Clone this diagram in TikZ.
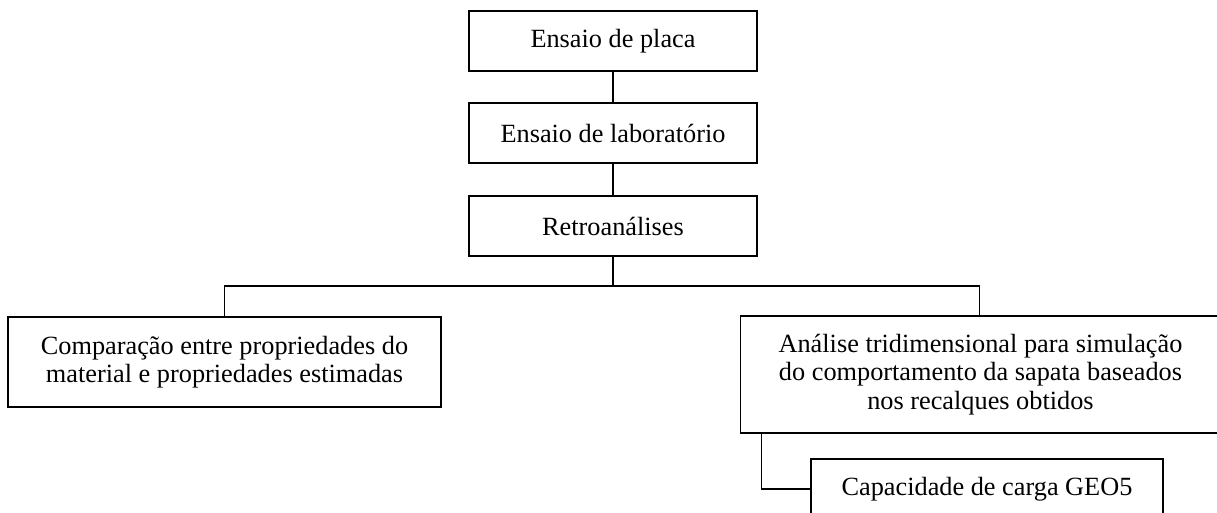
\documentclass[tikz,border=0pt]{standalone}
\usepackage{fontspec}
\setmainfont{Liberation Serif}
\usepackage{tikz}

\tikzset{
  box/.style={draw, line width=0.75pt, inner sep=0pt, align=center,
    font=\fontsize{12.7}{13.8}\selectfont},
  link/.style={line width=0.75pt}
}

\begin{document}
\begin{tikzpicture}[x=0.483pt,y=0.483pt,yscale=-1,xscale=1]
    \useasboundingbox (0,0) rectangle (1217,513);

    % Text Node
    \node (placa) at (613,41) [box, minimum width=139.1pt, minimum height=29pt] {Ensaio de placa};
    % Text Node
    \node (lab) at (613,133) [box, minimum width=139.1pt, minimum height=29pt] {Ensaio de laboratório};
    % Text Node
    \node (retro) at (613,226) [box, minimum width=139.1pt, minimum height=29pt] {Retroanálises};
    % Text Node
    \node (comp) at (224.5,362) [box, minimum width=209.1pt, minimum height=43.5pt] {Comparação entre propriedades do\\material e propriedades estimadas};
    % Text Node
    \node (tri) at (980.5,374.5) [box, minimum width=231.8pt, minimum height=56.5pt] {Análise tridimensional para simulação\\do comportamento da sapata baseados\\nos recalques obtidos};
    % Text Node
    \node (geo) at (987,489) [box, minimum width=170pt, minimum height=29pt] {Capacidade de carga GEO5};

    %Straight Lines
    \coordinate (split) at (613,286);
    \draw [link] (placa) -- (lab);
    \draw [link] (lab) -- (retro);
    \draw [link] (retro.south) -- (split);
    \draw [link] (split) -| (comp.north);
    \draw [link] (split) -| ([xshift=-0.5pt]tri.north);
    \draw [link] ([xshift=10.6pt]tri.south west) |- (geo.west);
\end{tikzpicture}
\end{document}
